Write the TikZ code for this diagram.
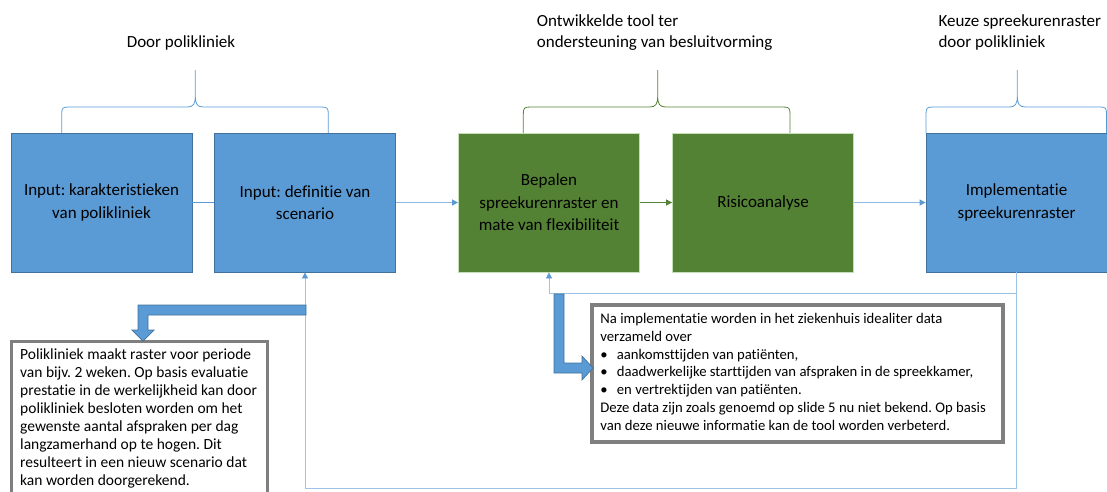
\documentclass[tikz,border=0pt]{standalone}
\usepackage{fontspec}
\setmainfont{Carlito}[Ligatures={NoCommon}]
\usetikzlibrary{arrows.meta}
\definecolor{bfill}{HTML}{5B9BD5}
\definecolor{bline}{HTML}{41719C}
\definecolor{gfill}{HTML}{548235}
\definecolor{gline}{HTML}{C5E0B4}
\definecolor{lblue}{HTML}{8DB9E2}
\definecolor{tgray}{HTML}{7F7F7F}
\frenchspacing
\begin{document}
\begin{tikzpicture}[x=1pt,y=-1pt,
  bluebox/.style={draw=bline, fill=bfill, line width=0.8pt, minimum width=181, minimum height=139, inner sep=0pt, align=center, font=\fontsize{17}{22.5}\selectfont},
  gbox/.style={bluebox, draw=gline, fill=gfill},
  lbl/.style={inner sep=0pt, align=left, font=\fontsize{17}{21.6}\selectfont},
  brb/.style={draw=bfill, line width=0.8pt},
  brg/.style={draw=gfill, line width=0.8pt},
  conn/.style={draw=lblue, line width=0.9pt, -{Triangle[length=6pt,width=6pt,color=bfill]}},
  gconn/.style={draw=gfill, line width=0.9pt, -{Triangle[length=6pt,width=6pt]}},
  fb/.style={draw=lblue!85, line width=0.8pt, -{Triangle[length=6pt,width=6pt,color=bfill]}},
  tbox/.style={draw=tgray, line width=3.5pt, fill=white, inner sep=0pt},
  bent/.style={fill=bfill, draw=bline, line width=0.7pt, line join=miter}
]
\useasboundingbox (0,0) rectangle (1107,491);
\clip (0,0) rectangle (1107,491);

% labels
\node[lbl, align=center] (l1) at (181,43.3) {Door polikliniek};
\node[lbl, anchor=west] (l2) at (536.7,32.5) {Ontwikkelde tool ter\\ondersteuning van besluitvorming};
\node[lbl, anchor=west] (l3) at (938.3,32.5) {Keuze spreekurenraster\\door polikliniek};

% braces
\draw[brb] (61.7,133) -- (61.7,114) .. controls (61.7,108) and (62.7,107) .. (68.7,107) -- (187.3,107) .. controls (193.3,107) and (195.3,104) .. (195.3,96) -- (195.3,70)
  (195.3,96) .. controls (195.3,104) and (197.3,107) .. (203.3,107) -- (321.3,107) .. controls (327.3,107) and (328.3,108) .. (328.3,114) -- (328.3,133);
\draw[brg] (523.3,133) -- (523.3,114) .. controls (523.3,108) and (524.3,107) .. (530.3,107) -- (649.7,107) .. controls (655.7,107) and (657.7,104) .. (657.7,96) -- (657.7,70)
  (657.7,96) .. controls (657.7,104) and (659.7,107) .. (665.7,107) -- (783,107) .. controls (789,107) and (790,108) .. (790,114) -- (790,133);
\draw[brb] (926,133) -- (926,114) .. controls (926,108) and (927,107) .. (933,107) -- (1009.3,107) .. controls (1015.3,107) and (1017.3,104) .. (1017.3,96) -- (1017.3,70)
  (1017.3,96) .. controls (1017.3,104) and (1019.3,107) .. (1025.3,107) -- (1099.7,107) .. controls (1105.7,107) and (1106.5,108) .. (1106.5,114) -- (1106.5,133);

% boxes
\node[bluebox] (b1) at (101.5,202.5) {Input: karakteristieken\\van polikliniek};
\node[bluebox] (b2) at (305,202.5) {Input: definitie van\\scenario};
\node[gbox] (b3) at (549,202.5) {Bepalen\\spreekurenraster en\\mate van flexibiliteit};
\node[gbox] (b4) at (763,202.5) {Risicoanalyse};
\node[bluebox] (b5) at (1016.5,202.5) {Implementatie\\spreekurenraster};

% connectors
\draw[draw=bfill, line width=1.1pt] (b1) -- (b2);
\draw[conn] (b2) -- (b3);
\draw[gconn] (b3) -- (b4);
\draw[conn] (b4) -- (b5);

% feedback loops
\coordinate (j1) at (1016.5,293.5);
\coordinate (j2) at (1016.5,488.5);
\draw[fb] (b5.south) -- (j2) -| (b2.south);
\draw[fb] (j1) -| (b3.south);

% text boxes
\node[tbox, minimum width=255.8, minimum height=190] (tb1) at (139.6,436.3) {};
\node[inner sep=0pt, anchor=north west, font=\fontsize{15.5}{18}\selectfont] (tb1t) at (20,347) {\begin{tabular}{@{}l@{}}
Polikliniek maakt raster voor periode\\
van bijv. 2 weken. Op basis evaluatie\\
prestatie in de werkelijkheid kan door\\
polikliniek besloten worden om het\\
gewenste aantal afspraken per dag\\
langzamerhand op te hogen. Dit\\
resulteert in een nieuw scenario dat\\
kan worden doorgerekend.
\end{tabular}};

\node[tbox, minimum width=411.3, minimum height=136.7, font=\fontsize{14.7}{17.7}\selectfont] (tb2) at (797.4,373.4) {\makebox[394pt][l]{\begin{tabular}{@{}l@{}}
Na implementatie worden in het ziekenhuis idealiter data\\
verzameld over\\
\makebox[16.5pt][l]{•}aankomsttijden van patiënten,\\
\makebox[16.5pt][l]{•}daadwerkelijke starttijden van afspraken in de spreekkamer,\\
\makebox[16.5pt][l]{•}en vertrektijden van patiënten.\\
Deze data zijn zoals genoemd op slide 5 nu niet bekend. Op basis\\
van deze nieuwe informatie kan de tool worden verbeterd.
\end{tabular}}};

% bent block arrows
\draw[bent] (306,305) -- (138,305) -- (138,330) -- (132,330) -- (143,341) -- (154,330) -- (148,330) -- (148,315) -- (306,315) -- cycle;
\draw[bent] (554,294) -- (564,294) -- (564,363) -- (582,363) -- (582,356) -- (593,368) -- (582,380) -- (582,373) -- (554,373) -- cycle;
\end{tikzpicture}
\end{document}
